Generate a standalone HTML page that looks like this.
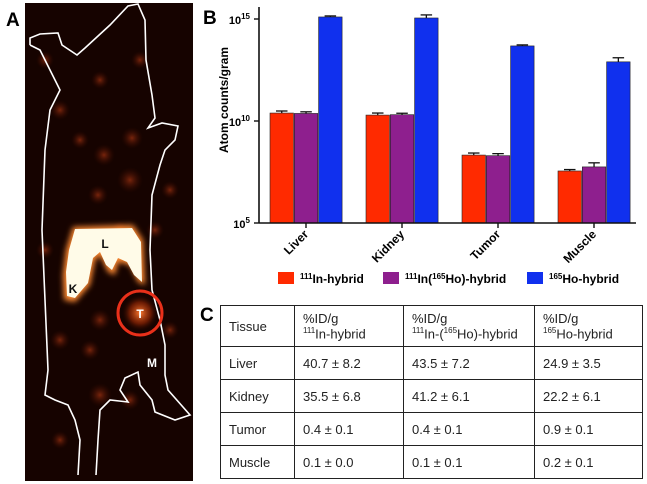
<!DOCTYPE html>
<html><head><meta charset="utf-8"><style>
body{margin:0;width:647px;height:484px;background:#fff;overflow:hidden;font-family:"Liberation Sans",sans-serif;position:relative}
.pl{position:absolute;font-weight:bold;font-size:19px}
table{position:absolute;left:220px;top:305px;width:423px;height:174px;border-collapse:collapse;font-size:13px;color:#222}
td{border:1.3px solid #222;padding:2px 8px;vertical-align:middle}
sup{font-size:8px}
</style></head><body>
<div class="pl" style="left:6px;top:10px">A</div>
<div class="pl" style="left:203px;top:8px">B</div>
<div class="pl" style="left:200px;top:305px">C</div>

<svg width="168" height="478" style="position:absolute;left:25px;top:3px" viewBox="25 3 168 478">
<defs>
<radialGradient id="g1"><stop offset="0" stop-color="#9a3010" stop-opacity="0.75"/><stop offset="1" stop-color="#3a0a00" stop-opacity="0"/></radialGradient>
<radialGradient id="g2"><stop offset="0" stop-color="#ff7a30"/><stop offset="0.6" stop-color="#a02a05" stop-opacity="0.6"/><stop offset="1" stop-color="#300800" stop-opacity="0"/></radialGradient>
<filter id="bl"><feGaussianBlur stdDeviation="3"/></filter>
</defs>
<rect x="25" y="3" width="168" height="478" fill="#160300"/>
<g fill="url(#g1)">
<circle cx="132" cy="138" r="11"/><circle cx="104" cy="155" r="11"/><circle cx="130" cy="180" r="13"/><circle cx="98" cy="195" r="10"/>
<circle cx="60" cy="110" r="10"/><circle cx="45" cy="60" r="9"/><circle cx="100" cy="395" r="12"/><circle cx="130" cy="400" r="10"/>
<circle cx="90" cy="350" r="10"/><circle cx="60" cy="340" r="10"/><circle cx="170" cy="190" r="9"/><circle cx="155" cy="230" r="9"/>
<circle cx="60" cy="440" r="9"/><circle cx="100" cy="80" r="9"/><circle cx="140" cy="60" r="9"/><circle cx="45" cy="250" r="9"/>
<circle cx="100" cy="320" r="11"/><circle cx="170" cy="330" r="9"/><circle cx="80" cy="140" r="9"/><circle cx="120" cy="230" r="9"/>
</g>
<circle cx="140" cy="313" r="18" fill="url(#g2)"/>
<path d="M73,227 L133,225 L143,240 L145,285 L138,282 L130,265 L118,262 L115,275 L108,272 L100,255 L95,260 L90,285 L75,302 L64,300 L63,275 L66,250 Z" fill="#ff8a30" filter="url(#bl)"/>
<path d="M75,229 L132,228 L141,242 L142,282 L134,275 L127,262 L118,258 L112,270 L106,265 L100,252 L93,258 L88,283 L75,298 L67,296 L66,272 L69,250 Z" fill="#fffbe8"/>
<path d="M30,45 L30,38 L40,34 L58,33 L62,45 L77,55 L85,48 L110,25 L128,6 L138,4 L145,20 L146,60 L152,95 L155,118 L148,128 L162,123 L178,126 L175,140 L165,150 L160,165 L152,195 L150,250 L152,290 L160,320 L165,345 L165,375 L168,390 L190,415 L175,420 L155,412 L152,400 L140,385 L138,372 L125,378 L120,390 L128,402 L110,400 L100,410 L98,440 L96,475 M78,475 L80,440 L75,420 L68,405 L55,400 L45,395 L48,370 L45,300 L42,230 L45,150 L50,110 L60,90 L55,80 L45,60 L40,50 L30,45" fill="none" stroke="#fff" stroke-width="1.6"/>
<circle cx="140" cy="313" r="22" fill="none" stroke="#e8301a" stroke-width="3"/>
<g font-family="Liberation Sans" font-weight="bold" font-size="12" text-anchor="middle">
<text x="105" y="248" fill="#111">L</text><text x="73" y="293" fill="#111">K</text>
<text x="140" y="318" fill="#fff">T</text><text x="152" y="367" fill="#fff">M</text>
</g>
</svg>

<svg id="chart" width="647" height="300" style="position:absolute;left:0;top:0"></svg>

<table>
<tr style="height:41px"><td style="width:57px">Tissue</td><td style="width:92px">%ID/g<br><sup>111</sup>In-hybrid</td><td style="width:114px">%ID/g<br><sup>111</sup>In-(<sup>165</sup>Ho)-hybrid</td><td>%ID/g<br><sup>165</sup>Ho-hybrid</td></tr>
<tr><td>Liver</td><td>40.7 ± 8.2</td><td>43.5 ± 7.2</td><td>24.9 ± 3.5</td></tr>
<tr><td>Kidney</td><td>35.5 ± 6.8</td><td>41.2 ± 6.1</td><td>22.2 ± 6.1</td></tr>
<tr><td>Tumor</td><td>0.4 ± 0.1</td><td>0.4 ± 0.1</td><td>0.9 ± 0.1</td></tr>
<tr><td>Muscle</td><td>0.1 ± 0.0</td><td>0.1 ± 0.1</td><td>0.2 ± 0.1</td></tr>
</table>

<script>
const categories=["Liver","Kidney","Tumor","Muscle"];
const inHybrid=[10.39,10.29,8.33,7.55];
const inHoHybrid=[10.37,10.31,8.3,7.75];
const hoHybrid=[15.1,15.05,13.68,12.9];
const inErr=[0.1,0.1,0.1,0.07];
const inHoErr=[0.08,0.07,0.1,0.2];
const hoErr=[0.05,0.15,0.05,0.2];
const yTicks=[5,10,15];
const series=[[inHybrid,inErr,"#ff2a00"],[inHoHybrid,inHoErr,"#8e1f8e"],[hoHybrid,hoErr,"#1030ee"]];
const NS="http://www.w3.org/2000/svg";
const svg=document.getElementById("chart");
const y0=223,pxPer=20.4;
function y(v){return y0-(v-5)*pxPer;}
function gx(i){return 270+i*96;}
function mk(t,a){const e=document.createElementNS(NS,t);for(const k in a)e.setAttribute(k,a[k]);svg.appendChild(e);return e;}
series.forEach((s,si)=>{
  s[0].forEach((v,i)=>{
    const x=gx(i)+si*24.3;
    const r=mk("rect",{x:x,y:y(v),width:23.5,height:y0-y(v),fill:s[2],stroke:"#222","stroke-width":0.6});
    
    
    const ye=y(v+s[1][i]);
    mk("line",{x1:x+11.75,x2:x+11.75,y1:y(v),y2:ye,stroke:"#111","stroke-width":1.3});
    mk("line",{x1:x+6,x2:x+17.5,y1:ye,y2:ye,stroke:"#111","stroke-width":1.3});
  });
});
mk("line",{x1:259,x2:259,y1:7,y2:y0,stroke:"#111","stroke-width":1.6});
mk("line",{x1:259,x2:636,y1:y0,y2:y0,stroke:"#111","stroke-width":1.6});
yTicks.forEach(t=>{
  mk("line",{x1:254,x2:259,y1:y(t),y2:y(t),stroke:"#111","stroke-width":1.4});
  const tx=mk("text",{x:250,y:y(t)+5,"text-anchor":"end","font-size":11,"font-weight":"bold","font-family":"Liberation Sans"});
  tx.innerHTML="10<tspan dy='-5' font-size='8'>"+t+"</tspan>";
  
  
});
const yt=mk("text",{transform:"translate(228,100) rotate(-90)","text-anchor":"middle","font-size":12,"font-weight":"bold","font-family":"Liberation Sans"});
yt.textContent="Atom counts/gram";


categories.forEach((c,i)=>{
  const cx=gx(i)+36;
  mk("line",{x1:cx,x2:cx,y1:y0,y2:y0+5,stroke:"#111","stroke-width":1.4});
  const t=mk("text",{transform:"translate("+(cx+3)+","+(y0+12)+") rotate(-45)","text-anchor":"end","font-size":12,"font-weight":"bold","font-family":"Liberation Sans"});
  t.textContent=c;
  
  
});
const leg=[[278,"#ff2a00","<tspan dy='-4' font-size='8'>111</tspan><tspan dy='4'>In-hybrid</tspan>"],[383,"#8e1f8e","<tspan dy='-4' font-size='8'>111</tspan><tspan dy='4'>In(</tspan><tspan dy='-4' font-size='8'>165</tspan><tspan dy='4'>Ho)-hybrid</tspan>"],[527,"#1030ee","<tspan dy='-4' font-size='8'>165</tspan><tspan dy='4'>Ho-hybrid</tspan>"]];
leg.forEach((l,i)=>{
  const r=mk("rect",{x:l[0],y:272,width:16,height:12,fill:l[1]});
  
  
  const t=mk("text",{x:l[0]+22,y:283,"font-size":12,"font-weight":"bold","font-family":"Liberation Sans"});
  t.innerHTML=l[2];
  
  
});
</script>
</body></html>
